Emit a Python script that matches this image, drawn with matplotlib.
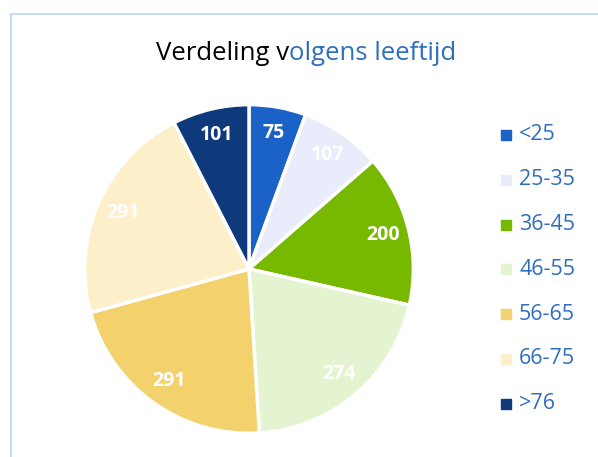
import matplotlib.pyplot as plt
from matplotlib.lines import Line2D

# data
leeftijd = ['<25', '25-35', '36-45', '46-55', '56-65', '66-75', '>76']
aantal = [75, 107, 200, 274, 291, 291, 101]
kleuren = ['#1a62c8', '#e9edfb', '#76b900', '#e5f4d0', '#f3d16d', '#fdefc9', '#0e3a7c']

blauw = '#2e6fbd'
plt.rcParams['font.family'] = ['Open Sans', 'DejaVu Sans']

W, H = 598, 457
fig = plt.figure(figsize=(W / 100, H / 100), dpi=100)

# pie axes: centre (249, 269) px, radius 166 px
cx, cy, r = 249, 269, 166
ax = fig.add_axes([(cx - r) / W, (H - cy - r) / H, 2 * r / W, 2 * r / H])
wedges, texts, autotexts = ax.pie(
    aantal, colors=kleuren, startangle=90, counterclock=False,
    autopct=lambda p: f'{round(p * sum(aantal) / 100)}', pctdistance=0.84,
    wedgeprops=dict(edgecolor='white', linewidth=2.5),
    textprops=dict(color='white', fontsize=14, fontweight='bold'))
ax.set_xlim(-1.01, 1.01)
ax.set_ylim(-1.01, 1.01)
ax.set_aspect('equal')

# title, two colours
fig.text(289 / W, 1 - 60 / H, 'Verdeling v', ha='right', va='baseline',
         fontsize=18.5, color='black')
fig.text(289 / W, 1 - 60 / H, 'olgens leeftijd', ha='left', va='baseline',
         fontsize=18.5, color=blauw)

# legend, one row per category
for i, (lab, c) in enumerate(zip(leeftijd, kleuren)):
    y = 1 - (135 + i * 44.8) / H
    fig.add_artist(Line2D([505.5 / W], [y], marker='s', ls='', markersize=7,
                          color=c))
    fig.text(519 / W, y, lab, ha='left', va='center', fontsize=15.5, color=blauw)

# chart frame
kader = '#c5dcf5'
fig.add_artist(Line2D([10.5 / W, 10.5 / W], [0, 1 - 13.5 / H], color=kader, lw=1.5))
fig.add_artist(Line2D([10.5 / W, 1], [1 - 13.5 / H, 1 - 13.5 / H], color=kader, lw=1.5))

fig.savefig('out.png', dpi=100)
